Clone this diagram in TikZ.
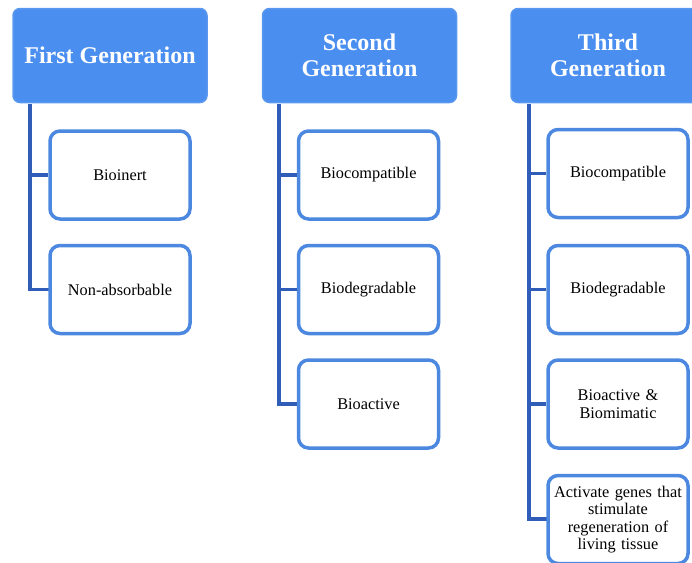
\documentclass[tikz,border=0pt]{standalone}
\usepackage{fontspec}
\setmainfont{Liberation Serif}
\definecolor{hdrfill}{HTML}{4A8EF0}
\definecolor{hdrdraw}{HTML}{5A98F0}
\definecolor{boxdraw}{HTML}{4C88E0}
\definecolor{linecol}{HTML}{2F5DB8}
\begin{document}
\begin{tikzpicture}[x=1pt,y=-1pt,
  hdr/.style={draw=hdrdraw,fill=hdrfill,line width=1.5pt,rounded corners=7pt,
    minimum width=194pt,minimum height=94pt,text=white,align=center,
    font=\fontsize{24}{26}\selectfont\bfseries,inner sep=0pt},
  item/.style={draw=boxdraw,fill=white,line width=3.5pt,rounded corners=10pt,
    minimum width=140pt,minimum height=88pt,align=center,
    font=\fontsize{16.3}{17.4}\selectfont,inner sep=0pt,text width=140pt},
  conn/.style={draw=linecol,line width=3.5pt}]
\useasboundingbox (0,0) rectangle (692,562);
% headers
\node[hdr] (h1) at (110,55.5) {First Generation};
\node[hdr] (h2) at (359.5,55.5) {Second\\Generation};
\node[hdr] (h3) at (608,55.5) {Third\\Generation};
% column coordinates
\coordinate (k1) at (30,104);
\coordinate (k2) at (279,104);
\coordinate (k3) at (529,104);
% connectors (behind boxes)
\draw[conn] (k1) |- (120,289.5) coordinate (e1);
\draw[conn] (k2) |- (380,404) coordinate (e2);
\draw[conn] (k3) |- (600,519) coordinate (e3);
% column 1
\node[item] (a1) at (120,175) {Bioinert};
\node[item] (a2) at (120,289.5) {Non-absorbable};
% column 2
\node[item] (b1) at (368.5,175) {Biocompatible};
\node[item] (b2) at (368.5,289.5) {Biodegradable};
\node[item] (b3) at (368.5,404) {Bioactive};
% column 3
\node[item] (c1) at (618,173.5) {Biocompatible};
\node[item] (c2) at (618,289.5) {Biodegradable};
\node[item] (c3) at (618,404) {Bioactive \&\\Biomimatic};
\node[item] (c4) at (618,519.5) {Activate genes that\\stimulate\\regeneration of\\living tissue};
% branches
\draw[conn] (k1 |- a1.west) -- (a1.west);
\draw[conn] (k2 |- b1.west) -- (b1.west);
\draw[conn] (k2 |- b2.west) -- (b2.west);
\draw[conn] (k3 |- c1.west) -- (c1.west);
\draw[conn] (k3 |- c2.west) -- (c2.west);
\draw[conn] (k3 |- c3.west) -- (c3.west);
\end{tikzpicture}
\end{document}
